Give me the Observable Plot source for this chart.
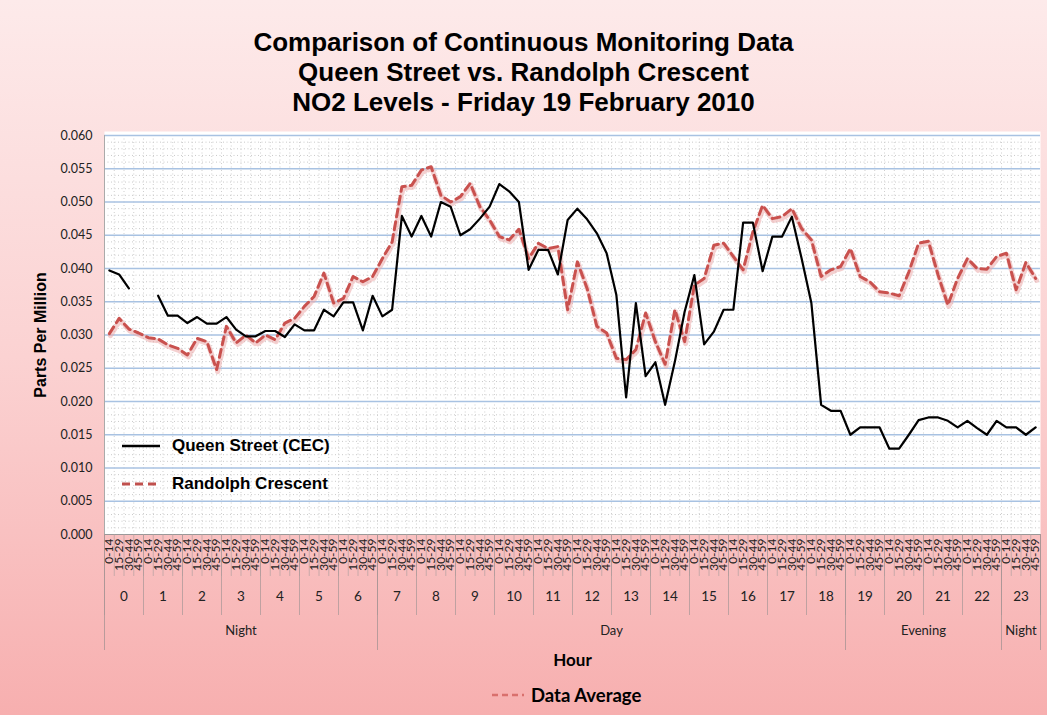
<!DOCTYPE html>
<html><head><meta charset="utf-8">
<script src="https://cdn.jsdelivr.net/npm/d3@7"></script>
<script src="https://cdn.jsdelivr.net/npm/@observablehq/plot@0.6"></script>
<style>
html,body{margin:0;padding:0;background:#fff;}
#chart{position:relative;width:1047px;height:715px;background:linear-gradient(to bottom,#fdeaea 0%,#fbd2d2 50%,#f7afaf 100%);font-family:"Liberation Sans",Arial,sans-serif;overflow:hidden;}
#title{height:122px;box-sizing:border-box;padding-top:27px;text-align:center;font-weight:bold;font-size:26px;line-height:30px;color:#000;}
#plot svg{display:block;}
.leg{position:absolute;display:flex;align-items:center;font-weight:bold;color:#000;}
#legIn1{left:120px;top:436px;font-size:17px;}
#legIn2{left:120px;top:474px;font-size:17px;}
#legBottom{left:492px;top:684px;font-family:Lato,"Open Sans",sans-serif;font-size:18.5px;}
.leg svg{margin-right:12px;}
</style></head>
<body>
<div id="chart">
  <div id="title">Comparison of Continuous Monitoring Data<br>Queen Street vs. Randolph Crescent<br>NO2 Levels - Friday 19 February 2010</div>
  <div id="plot"></div>
  <div class="leg" id="legIn1"><svg width="40" height="6"><line x1="2" x2="40" y1="3" y2="3" stroke="#000" stroke-width="2.5"/></svg>Queen Street (CEC)</div>
  <div class="leg" id="legIn2"><svg width="40" height="8"><line x1="2" x2="40" y1="4" y2="4" stroke="#c0504d" stroke-width="3" stroke-dasharray="8,5"/></svg>Randolph Crescent</div>
  <div class="leg" id="legBottom"><svg width="32" height="8" style="margin-right:7px"><line x1="0" x2="32" y1="4" y2="4" stroke="#d9706d" stroke-width="2.5" stroke-dasharray="6,4"/></svg>Data Average</div>
</div>
<script>
// ---- Data ----
const hours = d3.range(0, 24);
const quarterLabels = ["0-14", "15-29", "30-44", "45-59"];
const periods = ["Night", "Day", "Evening", "Night"];
const periodStartHour = [0, 7, 19, 23];
const periodEndHour = [7, 19, 23, 24];
const yTicks = [0, 0.005, 0.010, 0.015, 0.020, 0.025, 0.030, 0.035, 0.040, 0.045, 0.050, 0.055, 0.060];

const queenStreet = [
  0.0397, 0.0391, 0.0370, null,   null,   0.0359, 0.0329, 0.0329,
  0.0318, 0.0327, 0.0317, 0.0317, 0.0327, 0.0308, 0.0298, 0.0298,
  0.0306, 0.0306, 0.0297, 0.0316, 0.0307, 0.0307, 0.0338, 0.0328,
  0.0349, 0.0349, 0.0307, 0.0359, 0.0328, 0.0338, 0.0479, 0.0448,
  0.0479, 0.0448, 0.0500, 0.0493, 0.0450, 0.0459, 0.0475, 0.0493,
  0.0527, 0.0516, 0.0500, 0.0398, 0.0428, 0.0428, 0.0391, 0.0473,
  0.0490, 0.0474, 0.0453, 0.0423, 0.0360, 0.0206, 0.0348, 0.0238,
  0.0259, 0.0195, 0.0260, 0.0335, 0.0390, 0.0286, 0.0305, 0.0338,
  0.0338, 0.0469, 0.0469, 0.0396, 0.0448, 0.0448, 0.0478, 0.0415,
  0.0348, 0.0195, 0.0186, 0.0186, 0.0150, 0.0161, 0.0161, 0.0161,
  0.0129, 0.0129, 0.0150, 0.0172, 0.0176, 0.0176, 0.0171, 0.0161,
  0.0171, 0.0160, 0.0150, 0.0171, 0.0161, 0.0161, 0.0150, 0.0161
];
const randolph = [
  0.0302, 0.0325, 0.0309, 0.0303, 0.0296, 0.0294, 0.0285, 0.0280,
  0.0270, 0.0295, 0.0290, 0.0248, 0.0313, 0.0288, 0.0300, 0.0288,
  0.0300, 0.0293, 0.0318, 0.0325, 0.0343, 0.0358, 0.0393, 0.0348,
  0.0355, 0.0388, 0.0380, 0.0388, 0.0415, 0.0440, 0.0523, 0.0525,
  0.0548, 0.0553, 0.0510, 0.0500, 0.0508, 0.0528, 0.0493, 0.0473,
  0.0448, 0.0443, 0.0459, 0.0415, 0.0438, 0.0430, 0.0433, 0.0338,
  0.0410, 0.0370, 0.0313, 0.0303, 0.0265, 0.0263, 0.0278, 0.0333,
  0.0290, 0.0256, 0.0338, 0.0290, 0.0375, 0.0385, 0.0435, 0.0438,
  0.0418, 0.0398, 0.0455, 0.0495, 0.0475, 0.0478, 0.0490, 0.0460,
  0.0443, 0.0388, 0.0398, 0.0403, 0.0430, 0.0388, 0.0380, 0.0365,
  0.0363, 0.0359, 0.0395, 0.0438, 0.0441, 0.0390, 0.0345, 0.0385,
  0.0415, 0.0400, 0.0399, 0.0418, 0.0423, 0.0368, 0.0409, 0.0385
];

// ---- Build table ----
const rows = [];
hours.forEach(h => quarterLabels.forEach((q, k) => {
  const i = h * 4 + k;
  rows.push({i, hour: h, quarter: q, qs: queenStreet[i], rc: randolph[i]});
}));
const nSlots = rows.length;
const periodRows = periods.map((p, j) => ({name: p, start: periodStartHour[j] * 4, end: periodEndHour[j] * 4}));

const W = 1047, H = 558, mT = 13, mB = 146, mL = 104, mR = 7;
const plotH = H - mT - mB;
const minorTicks = d3.range(1, 60).filter(v => v % 5 !== 0).map(v => v / 1000);

const chart = Plot.plot({
  width: W, height: H,
  marginTop: mT, marginBottom: mB, marginLeft: mL, marginRight: mR,
  style: {background: "transparent", fontFamily: "Lato, 'Open Sans', sans-serif", color: "#222"},
  x: {type: "linear", domain: [0, nSlots], axis: null},
  y: {domain: [0, 0.06], axis: null},
  marks: [
    Plot.frame({fill: "white", stroke: "none", insetTop: -4}),
    Plot.ruleY(minorTicks, {stroke: "#c9c9c9", strokeDasharray: "1,2.5"}),
    Plot.ruleX(d3.range(1, nSlots), {stroke: "#cfcfcf", strokeDasharray: "1,2.5"}),
    Plot.ruleY(yTicks.slice(1), {stroke: "#a8c2e2", strokeWidth: 1.4}),
    Plot.ruleY([0], {stroke: "#999"}),
    Plot.ruleX([0], {stroke: "#aaa"}),
    // category axis rules below the plot
    Plot.ruleX(d3.range(0, nSlots + 1), {insetTop: plotH, insetBottom: -42, stroke: "#b5a0a0", strokeWidth: 0.7}),
    Plot.ruleX(hours.map(h => h * 4).concat([nSlots]), {insetTop: plotH, insetBottom: -81, stroke: "#b09a9a", strokeWidth: 0.8}),
    Plot.ruleX(periodRows.map(d => d.start).concat([nSlots]), {insetTop: plotH, insetBottom: -116, stroke: "#a89494", strokeWidth: 0.8}),
    Plot.text(rows, {x: d => d.i + 0.5, text: "quarter", frameAnchor: "bottom", rotate: -90, textAnchor: "end", lineAnchor: "middle", dy: 4, fontSize: 12, fill: "#222"}),
    Plot.text(hours, {x: h => h * 4 + 2, text: h => String(h), frameAnchor: "bottom", dy: 66, fontSize: 13.5, fill: "#222"}),
    Plot.text(periodRows, {x: d => (d.start + d.end) / 2, text: "name", frameAnchor: "bottom", dy: 100, fontSize: 13, fill: "#222"}),
    Plot.text(["Hour"], {frameAnchor: "bottom", dy: 131, fontSize: 17, fontWeight: "bold", fill: "#000"}),
    Plot.axisY({ticks: yTicks, tickFormat: d3.format(".3f"), tickSize: 0, tickPadding: 12, fontSize: 12.5, label: null}),
    Plot.text(["Parts Per Million"], {frameAnchor: "left", textAnchor: "middle", dx: -64, rotate: -90, fontSize: 16, fontWeight: "bold", fontFamily: "Liberation Sans, Arial, sans-serif", fill: "#000"}),
    // series
    Plot.line(rows, {x: d => d.i + 0.5, y: "rc", stroke: "#eba9a9", strokeWidth: 5, strokeOpacity: 0.55, dx: 1, dy: 2, strokeDasharray: "9,4"}),
    Plot.line(rows, {x: d => d.i + 0.5, y: "rc", stroke: "#c9514e", strokeWidth: 3, strokeDasharray: "8,5"}),
    Plot.line(rows, {x: d => d.i + 0.5, y: "qs", stroke: "#000", strokeWidth: 2.2})
  ]
});
document.getElementById("plot").appendChild(chart);
</script>
</body></html>
